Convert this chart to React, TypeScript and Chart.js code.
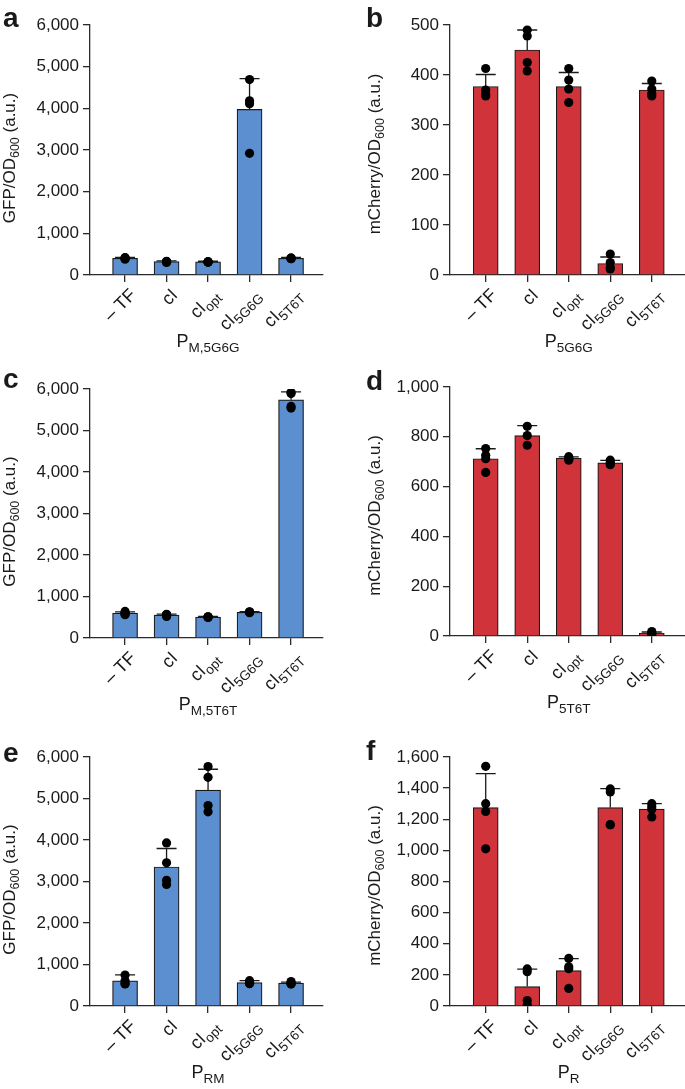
import React, { useEffect, useRef } from 'react';
import { Chart, registerables } from 'chart.js';

Chart.register(...registerables);

const FONT = '"Liberation Sans", Arial, Helvetica, sans-serif';
const TEXT = '#1a1a1a';
const AXIS = '#2a2a2a';
const BLUE = '#5B8FCF';
const RED = '#D1333B';

// categories (main text + subscript)
const catMain = ['\u2013 TF', 'cI', 'cI', 'cI', 'cI'];
const catSub = ['', '', 'opt', '5G6G', '5T6T'];
const catPos = [0, 1, 2, 3, 4];

// panel a — GFP, P_M,5G6G
const meansA = [400, 320, 315, 3975, 400];
const sdA = [25, 20, 15, 740, 20];
const ptsA = [[410, 395, 380, 415], [330, 310, 320, 300], [320, 310, 315, 305], [4690, 4180, 4110, 2920], [410, 395, 400, 390]];

// panel b — mCherry, P_5G6G
const meansB = [377, 450, 377, 23, 370];
const sdB = [24, 40, 28, 13, 13];
const ptsB = [[413, 370, 362, 358], [490, 478, 425, 408], [413, 390, 372, 345], [42, 25, 15, 12], [388, 372, 363, 358]];

// panel c — GFP, P_M,5T6T
const meansC = [600, 550, 505, 620, 5740];
const sdC = [30, 25, 15, 15, 190];
const ptsC = [[640, 600, 560, 580], [570, 545, 520, 560], [510, 500, 495, 510], [625, 630, 610, 620], [5920, 5890, 5580, 5540]];

// panel d — mCherry, P_5T6T
const meansD = [712, 805, 714, 695, 12];
const sdD = [40, 40, 5, 10, 4];
const ptsD = [[753, 726, 712, 657], [842, 805, 766], [720, 716, 706, 712], [706, 697, 688, 692], [18, 10, 8]];

// panel e — GFP, P_RM
const meansE = [605, 3350, 5200, 565, 550];
const sdE = [145, 445, 505, 45, 25];
const ptsE = [[745, 610, 540, 530], [3930, 3450, 3030, 2930], [5770, 5510, 4830, 4680], [610, 570, 540, 540], [590, 550, 530, 535]];

// panel f — mCherry, P_R
const meansF = [1275, 125, 228, 1275, 1265];
const sdF = [218, 112, 77, 122, 36];
const ptsF = [[1540, 1300, 1250, 1010], [238, 220, 35, 8], [306, 252, 240, 113], [1395, 1375, 1165, 1165], [1300, 1280, 1215, 1265]];

type Part = { t: string; sub?: boolean };

const gfpTitle: Part[] = [{ t: 'GFP/OD' }, { t: '600', sub: true }, { t: ' (a.u.)' }];
const cherryTitle: Part[] = [{ t: 'mCherry/OD' }, { t: '600', sub: true }, { t: ' (a.u.)' }];

type PanelCfg = {
  letter: string;
  x: number; y: number; w: number; h: number;
  left: number; top: number; bottom: number; right: number;
  xmin: number; xmax: number;
  ymax: number; step: number;
  color: string;
  means: number[]; sds: number[]; pts: number[][];
  yTitle: Part[]; yTitleX: number; yTitleDy: number;
  xTitle: Part[];
  letterX: number; letterY: number;
};

const L = { x: 0, w: 340, left: 90, right: 17, xmin: -0.845, xmax: 4.77, yTitleX: 15, yTitleDy: 8, letterX: 3 };
const R = { x: 340, w: 345, left: 110, right: 0, xmin: -0.86, xmax: 4.8, yTitleX: 40, yTitleDy: 4, letterX: 26 };

const panels: PanelCfg[] = [
  { ...L, letter: 'a', y: 0, h: 360, top: 25, bottom: 275, ymax: 6000, step: 1000, color: BLUE, means: meansA, sds: sdA, pts: ptsA, yTitle: gfpTitle, xTitle: [{ t: 'P' }, { t: 'M,5G6G', sub: true }], letterY: 27 },
  { ...R, letter: 'b', y: 0, h: 360, top: 25, bottom: 275, ymax: 500, step: 100, color: RED, means: meansB, sds: sdB, pts: ptsB, yTitle: cherryTitle, xTitle: [{ t: 'P' }, { t: '5G6G', sub: true }], letterY: 27 },
  { ...L, letter: 'c', y: 360, h: 360, top: 29, bottom: 278, ymax: 6000, step: 1000, color: BLUE, means: meansC, sds: sdC, pts: ptsC, yTitle: gfpTitle, xTitle: [{ t: 'P' }, { t: 'M,5T6T', sub: true }], letterY: 28 },
  { ...R, letter: 'd', y: 360, h: 360, top: 27, bottom: 276, ymax: 1000, step: 200, color: RED, means: meansD, sds: sdD, pts: ptsD, yTitle: cherryTitle, xTitle: [{ t: 'P' }, { t: '5T6T', sub: true }], letterY: 30 },
  { ...L, letter: 'e', y: 720, h: 369, top: 37, bottom: 286, ymax: 6000, step: 1000, color: BLUE, means: meansE, sds: sdE, pts: ptsE, yTitle: gfpTitle, xTitle: [{ t: 'P' }, { t: 'RM', sub: true }], letterY: 42 },
  { ...R, letter: 'f', y: 720, h: 369, top: 37, bottom: 286, ymax: 1600, step: 200, color: RED, means: meansF, sds: sdF, pts: ptsF, yTitle: cherryTitle, xTitle: [{ t: 'P' }, { t: 'R', sub: true }], letterY: 40 },
];

function drawRich(ctx: CanvasRenderingContext2D, parts: Part[], x: number, y: number, align: 'left' | 'center' | 'right', size: number, subSize: number, subDy: number) {
  const widths = parts.map((p) => {
    ctx.font = `${p.sub ? subSize : size}px ${FONT}`;
    return ctx.measureText(p.t).width;
  });
  const total = widths.reduce((a, b) => a + b, 0);
  let cx = align === 'left' ? x : align === 'center' ? x - total / 2 : x - total;
  ctx.textAlign = 'left';
  ctx.textBaseline = 'alphabetic';
  parts.forEach((p, i) => {
    ctx.font = `${p.sub ? subSize : size}px ${FONT}`;
    ctx.fillText(p.t, cx, y + (p.sub ? subDy : 0));
    cx += widths[i];
  });
}

function makePlugin(cfg: PanelCfg) {
  return {
    id: 'panelDecor',
    afterDatasetDraw(chart: any, args: any) {
      if (args.index !== 0) return;
      const ctx: CanvasRenderingContext2D = chart.ctx;
      const xs = chart.scales.x;
      const ys = chart.scales.y;
      ctx.save();
      ctx.strokeStyle = TEXT;
      ctx.lineWidth = 1.3;
      cfg.means.forEach((m, i) => {
        const px = xs.getPixelForValue(catPos[i]);
        const base = ys.getPixelForValue(m);
        const top = ys.getPixelForValue(m + cfg.sds[i]);
        ctx.beginPath();
        ctx.moveTo(px, base);
        ctx.lineTo(px, top);
        ctx.moveTo(px - 10, top);
        ctx.lineTo(px + 10, top);
        ctx.stroke();
      });
      ctx.restore();
    },
    afterDraw(chart: any) {
      const ctx: CanvasRenderingContext2D = chart.ctx;
      const xs = chart.scales.x;
      const area = chart.chartArea;
      ctx.save();
      ctx.fillStyle = TEXT;
      // x tick labels, rotated
      catPos.forEach((v, i) => {
        const px = xs.getPixelForValue(v);
        ctx.save();
        ctx.translate(px + 12, area.bottom + 21);
        ctx.rotate(-Math.PI / 4);
        const parts: Part[] = [{ t: catMain[i] }];
        if (catSub[i]) parts.push({ t: catSub[i], sub: true });
        drawRich(ctx, parts, 0, 0, 'right', 18, 13.5, 4.5);
        ctx.restore();
      });
      // x title
      drawRich(ctx, cfg.xTitle, xs.getPixelForValue(2), area.bottom + 72, 'center', 18, 13.5, 5);
      // y title
      ctx.save();
      ctx.translate(cfg.yTitleX, (area.top + area.bottom) / 2 + cfg.yTitleDy);
      ctx.rotate(-Math.PI / 2);
      drawRich(ctx, cfg.yTitle, 0, 0, 'center', 17, 12.5, 4);
      ctx.restore();
      // panel letter
      ctx.font = `bold 28px ${FONT}`;
      ctx.textAlign = 'left';
      ctx.textBaseline = 'alphabetic';
      ctx.fillText(cfg.letter, cfg.letterX, cfg.letterY);
      ctx.restore();
    },
  };
}

function Panel({ cfg }: { cfg: PanelCfg }) {
  const ref = useRef<HTMLCanvasElement>(null);
  useEffect(() => {
    if (!ref.current) return;
    const barData = cfg.means.map((m, i) => ({ x: catPos[i], y: m }));
    const pointData: { x: number; y: number }[] = [];
    cfg.pts.forEach((arr, i) => arr.forEach((v) => pointData.push({ x: catPos[i], y: v })));
    const chart = new Chart(ref.current, {
      type: 'bar',
      data: {
        datasets: [
          {
            type: 'bar',
            data: barData as any,
            backgroundColor: cfg.color,
            borderColor: TEXT,
            borderWidth: 1.2,
            barThickness: 25,
            order: 2,
          } as any,
          {
            type: 'scatter',
            data: pointData as any,
            backgroundColor: '#000',
            borderWidth: 0,
            pointRadius: 4.6,
            order: 1,
          } as any,
        ],
      },
      options: {
        animation: false,
        responsive: false,
        maintainAspectRatio: false,
        layout: { autoPadding: false, padding: { top: cfg.top, right: cfg.right, left: 0, bottom: 0 } } as any,
        plugins: { legend: { display: false }, tooltip: { enabled: false } },
        scales: {
          x: {
            type: 'linear',
            min: cfg.xmin,
            max: cfg.xmax,
            offset: false,
            afterBuildTicks: (s: any) => { s.ticks = catPos.map((v) => ({ value: v })); },
            ticks: { display: false },
            grid: { display: true, offset: false, drawOnChartArea: false, drawTicks: true, tickLength: 7, color: AXIS, lineWidth: 1.3 },
            border: { display: true, color: AXIS, width: 1.3 },
            afterFit: (s: any) => { s.height = cfg.h - cfg.bottom; },
          } as any,
          y: {
            type: 'linear',
            min: 0,
            max: cfg.ymax,
            ticks: {
              stepSize: cfg.step,
              color: TEXT,
              padding: 4,
              font: { family: FONT, size: 17 },
              callback: (v: any) => Number(v).toLocaleString('en-US'),
            },
            grid: { display: true, drawOnChartArea: false, drawTicks: true, tickLength: 7, color: AXIS, lineWidth: 1.3 },
            border: { display: true, color: AXIS, width: 1.3 },
            afterFit: (s: any) => { s.width = cfg.left; },
          } as any,
        },
      },
      plugins: [makePlugin(cfg)],
    });
    return () => chart.destroy();
  }, []);
  return (
    <canvas
      ref={ref}
      width={cfg.w}
      height={cfg.h}
      style={{ position: 'absolute', left: cfg.x, top: cfg.y, width: cfg.w, height: cfg.h, display: 'block' }}
    />
  );
}

export default function App() {
  return (
    <div style={{ position: 'absolute', left: 0, top: 0, width: 685, height: 1089, background: '#fff', overflow: 'hidden' }}>
      {panels.map((p) => (
        <Panel key={p.letter} cfg={p} />
      ))}
    </div>
  );
}
